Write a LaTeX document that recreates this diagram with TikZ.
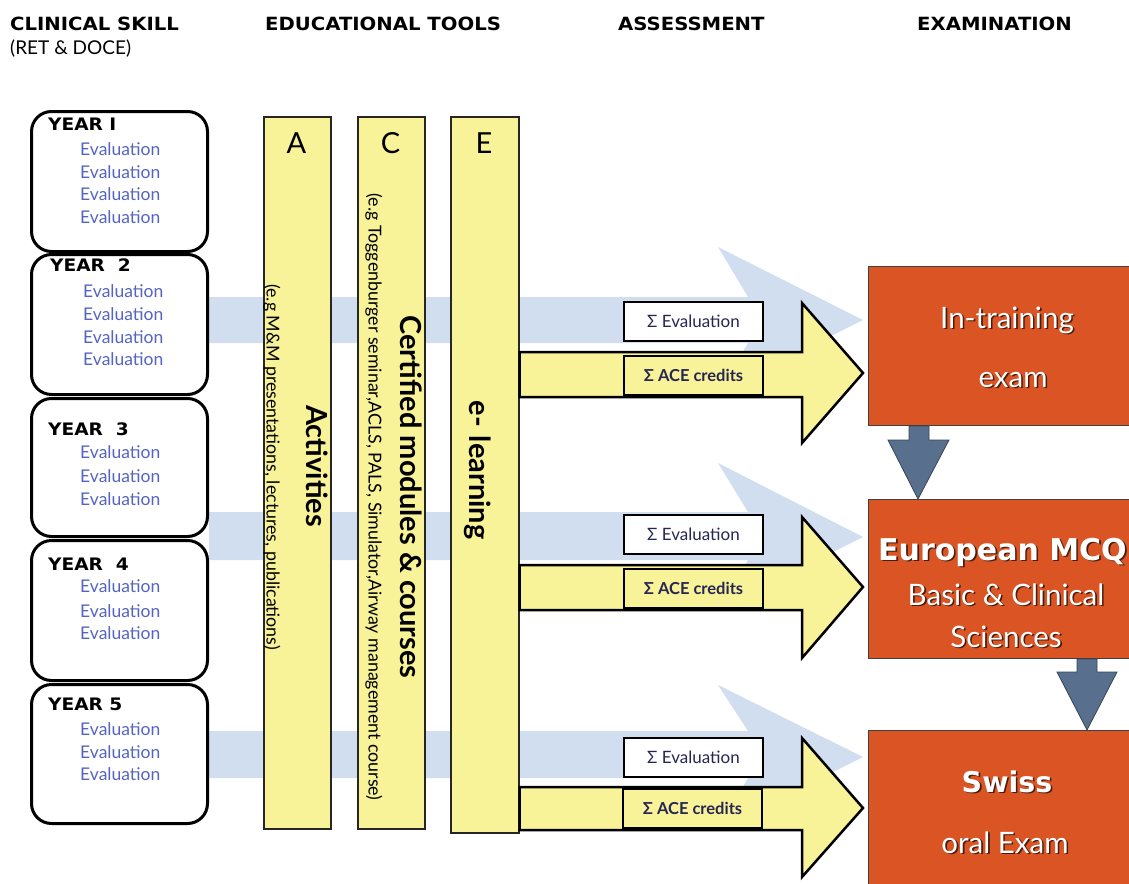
\documentclass[tikz,border=0pt]{standalone}
\usepackage{fontspec}
\setmainfont{Lato}
\newfontfamily\hdfont{DejaVu Sans}[FakeStretch=1.08]
\newfontfamily\bigbold{DejaVu Sans}
\usetikzlibrary{calc}
\definecolor{ylw}{RGB}{248,242,152}
\definecolor{bandblue}{RGB}{208,222,240}
\definecolor{evalblue}{RGB}{84,100,192}
\definecolor{org}{RGB}{218,84,36}
\definecolor{slate}{RGB}{88,112,142}
\definecolor{navy}{RGB}{38,38,82}
\definecolor{shad}{RGB}{70,30,15}
\newcommand\shtxt[1]{\leavevmode\rlap{\kern1.6pt\raisebox{-1.6pt}{\textcolor{shad}{#1}}}#1}
\pgfdeclarelayer{bg}
\pgfsetlayers{bg,main}
\begin{document}
\begin{tikzpicture}[x=1pt,y=-1pt,
  hdr/.style={anchor=base west, inner sep=0, font=\hdfont\bfseries\fontsize{18.2}{20}\selectfont},
  sub/.style={anchor=base west, inner sep=0, font=\fontsize{19}{20}\selectfont},
  yearbox/.style={draw=black, line width=3pt, rounded corners=20pt, fill=white, anchor=north west, minimum width=176pt, inner sep=0},
  ytitle/.style={anchor=base west, inner sep=0, font=\hdfont\bfseries\fontsize{17.2}{18}\selectfont},
  evl/.style={anchor=base west, inner sep=0, text=evalblue, font=\fontsize{17.5}{20}\selectfont},
  col/.style={draw=black!85, line width=1.5pt, fill=ylw, anchor=north west, inner sep=0, minimum width=67pt},
  colletter/.style={anchor=base, inner sep=0, font=\fontsize{29}{30}\selectfont},
  vbold/.style={rotate=-90, inner sep=0, font=\bfseries\fontsize{29}{30}\selectfont},
  vsmall/.style={rotate=-90, inner sep=0, font=\fontsize{17.8}{19}\selectfont},
  band/.style={fill=bandblue},
  yarrow/.style={fill=ylw, draw=black, line width=2.5pt, line join=miter},
  sumbox/.style={draw=black, line width=2pt, minimum width=139pt, minimum height=39pt, anchor=north west, inner sep=0, text=navy, font=\fontsize{17}{18}\selectfont},
  exam/.style={fill=org, draw=black!75, line width=1pt, anchor=north west, minimum width=290pt, inner sep=0},
  extxt/.style={text=white, inner sep=0, anchor=base, font=\fontsize{29.5}{32}\selectfont},
  exbold/.style={text=white, inner sep=0, anchor=base, font=\bigbold\bfseries\fontsize{30}{32}\selectfont},
  darrow/.style={fill=slate, draw=slate!60!black, line width=0.8pt}
]
\useasboundingbox (0,0) rectangle (1129,883);

% headers
\node[hdr] (h1) at (10,31) {CLINICAL SKILL};
\node[sub] (h1b) at (10,55) {(RET \& DOCE)};
\node[hdr] (h2) at (265,31) {EDUCATIONAL TOOLS};
\node[hdr] (h3) at (618,31) {ASSESSMENT};
\node[hdr] (h4) at (917,31) {EXAMINATION};

% year boxes
\node[yearbox, minimum height=140pt] (y1) at (30,110) {};
\node[yearbox, minimum height=140pt] (y2) at (30,253) {};
\node[yearbox, minimum height=138pt] (y3) at (30,397) {};
\node[yearbox, minimum height=140pt] (y4) at (30,539) {};
\node[yearbox, minimum height=139pt] (y5) at (30,683) {};

\node[ytitle] (t1) at (48,130) {YEAR I};
\node[evl] (e11) at (80,155) {Evaluation};
\node[evl] (e12) at (80,178) {Evaluation};
\node[evl] (e13) at (80,200) {Evaluation};
\node[evl] (e14) at (80,223) {Evaluation};

\node[ytitle] (t2) at (50,271) {YEAR\ \ 2};
\node[evl] (e21) at (83,297) {Evaluation};
\node[evl] (e22) at (83,320) {Evaluation};
\node[evl] (e23) at (83,343) {Evaluation};
\node[evl] (e24) at (83,365) {Evaluation};

\node[ytitle] (t3) at (48,435) {YEAR\ \ 3};
\node[evl] (e31) at (80,458) {Evaluation};
\node[evl] (e32) at (80,482) {Evaluation};
\node[evl] (e33) at (80,505) {Evaluation};

\node[ytitle] (t4) at (48,570) {YEAR\ \ 4};
\node[evl] (e41) at (80,592) {Evaluation};
\node[evl] (e42) at (80,617) {Evaluation};
\node[evl] (e43) at (80,639) {Evaluation};

\node[ytitle] (t5) at (48,710) {YEAR 5};
\node[evl] (e51) at (80,735) {Evaluation};
\node[evl] (e52) at (80,758) {Evaluation};
\node[evl] (e53) at (80,780) {Evaluation};

% columns
\node[col, minimum height=712pt] (colA) at (263,116) {};
\node[col, minimum height=712pt] (colC) at (357,116) {};
\node[col, minimum height=716pt, minimum width=68pt] (colE) at (450,116) {};
\node[colletter] (lA) at (296.5,153) {A};
\node[colletter] (lC) at (390.5,153) {C};
\node[colletter] (lE) at (484,153) {E};

\node[vsmall] (sA) at (272,467) {(e.g M\&M presentations, lectures, publications)};
\node[vbold] (bA) at (317,466) {Activities};
\node[vsmall] (sC) at (374,497) {(e.g Toggenburger seminar,ACLS, PALS, Simulator,Airway management course)};
\node[vbold] (bC) at (411,497) {Certified modules \& courses};
\node[vbold] (bE) at (478,470) {e-\hspace{9pt}learning};

% exam boxes
\node[exam, minimum height=159pt] (ex1) at (868,266) {};
\node[exam, minimum height=159pt] (ex2) at (868,499) {};
\node[exam, minimum height=170pt] (ex3) at (868,730) {};

% blue bands (behind)
\begin{pgfonlayer}{bg}
\fill[band] (y2.east |- 0,297) -- (748,297) -- (718,247) -- (863,320) -- (718,393) -- (748,343) -- (y2.east |- 0,343) -- cycle;
\fill[band] (y3.south east |- 0,512) -- (748,512) -- (718,463) -- (863,537) -- (718,610) -- (748,560) -- (y3.south east |- 0,560) -- cycle;
\fill[band] (y5.east |- 0,731) -- (748,731) -- (718,685) -- (863,757) -- (718,830) -- (748,778) -- (y5.east |- 0,778) -- cycle;
\end{pgfonlayer}

% yellow arrows
\draw[yarrow] (colE.north east |- 0,352) -- (802,352) -- (802,303) -- (863,373) -- (802,443) -- (802,397) -- (colE.north east |- 0,397) -- cycle;
\draw[yarrow] (colE.north east |- 0,565) -- (802,565) -- (802,517) -- (863,587) -- (802,658) -- (802,610) -- (colE.north east |- 0,610) -- cycle;
\draw[yarrow] (colE.north east |- 0,787) -- (802,787) -- (802,738) -- (863,808) -- (802,877) -- (802,830) -- (colE.north east |- 0,830) -- cycle;

% sum boxes
\node[sumbox, fill=white] (se1) at (623,301) {Σ Evaluation};
\node[sumbox, fill=ylw, font=\bfseries\fontsize{16.5}{18}\selectfont] (sa1) at (623,355) {Σ ACE credits};
\node[sumbox, fill=white] (se2) at (623,514) {Σ Evaluation};
\node[sumbox, fill=ylw, font=\bfseries\fontsize{16.5}{18}\selectfont] (sa2) at (623,568) {Σ ACE credits};
\node[sumbox, fill=white] (se3) at (623,737) {Σ Evaluation};
\node[sumbox, fill=ylw, font=\bfseries\fontsize{16.5}{18}\selectfont] (sa3) at (622,788) {Σ ACE credits};

% exam texts
\node[extxt] (x11) at (1007,328) {\shtxt{In-training}};
\node[extxt] (x12) at (1013,387) {\shtxt{exam}};
\node[exbold, anchor=base west] (x21) at (878,560) {\shtxt{European MCQ}};
\node[extxt] (x22) at (1006,605) {\shtxt{Basic \& Clinical}};
\node[extxt] (x23) at (1006,647) {\shtxt{Sciences}};
\node[exbold, font=\bigbold\bfseries\fontsize{28.5}{32}\selectfont] (x31) at (1007,792) {\shtxt{Swiss}};
\node[extxt] (x32) at (1005,853) {\shtxt{oral Exam}};

% down arrows
\draw[darrow] (909,0 |- ex1.south) -- (909,440) -- (888,440) -- (918,0 |- ex2.north) -- (949,440) -- (929,440) -- (929,0 |- ex1.south) -- cycle;
\draw[darrow] (1077,0 |- ex2.south) -- (1077,672) -- (1057,672) -- (1087,0 |- ex3.north) -- (1117,672) -- (1097,672) -- (1097,0 |- ex2.south) -- cycle;
\end{tikzpicture}
\end{document}
